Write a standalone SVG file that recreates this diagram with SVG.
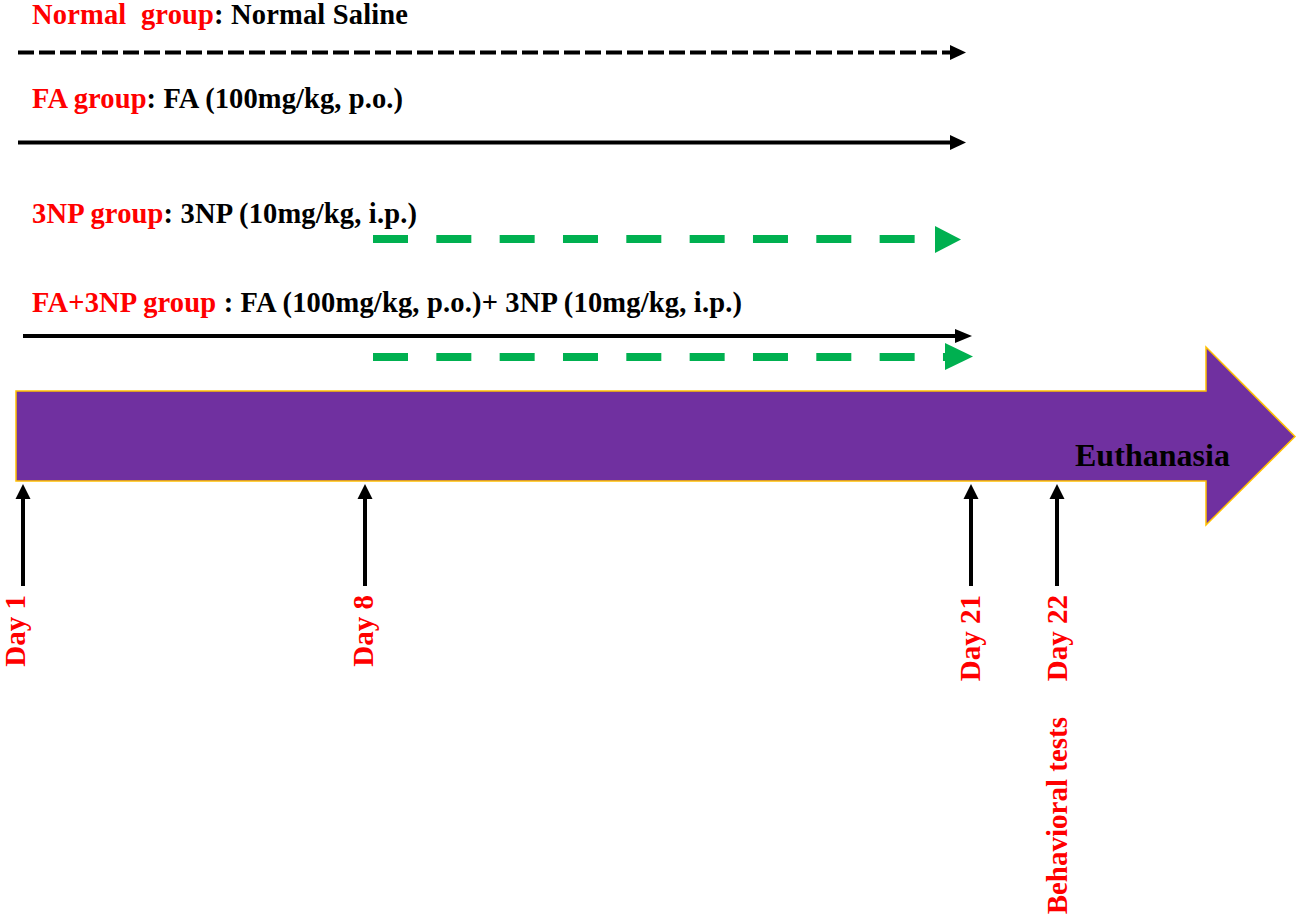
<svg xmlns="http://www.w3.org/2000/svg" width="1300" height="917" viewBox="0 0 1300 917">
<style>
text{font-family:"Liberation Serif","Times New Roman",serif;font-weight:bold}
.lbl{font-size:28.5px;fill:#000}
.red{fill:#FF0000}
.day{font-size:29px;fill:#FF0000;text-anchor:end}
.blk{stroke:#000;stroke-width:4;fill:none}
.dsh{stroke-dasharray:16 5}
.grn{stroke:#00B050;stroke-width:8;fill:none;stroke-dasharray:35 28.33}
.hb{fill:#000}
.hg{fill:#00B050}
</style>
<g id="timeline">
<polygon points="16,391 1206,391 1206,347 1295,436.5 1206,525 1206,481 16,481" fill="#7030A0" stroke="#FFC000" stroke-width="1.5"/>
<text x="1075" y="466" font-size="32" fill="#000" textLength="155">Euthanasia</text>
</g>
<g id="normal-group">
<text class="lbl" x="32" y="24" textLength="376"><tspan class="red">Normal&#160; group</tspan>: Normal Saline</text>
</g>
<g id="fa-group">
<text class="lbl" x="32" y="108" textLength="371"><tspan class="red">FA group</tspan>: FA (100mg/kg, p.o.)</text>
</g>
<g id="np-group">
<text class="lbl" x="32" y="223" textLength="385"><tspan class="red">3NP group</tspan>: 3NP (10mg/kg, i.p.)</text>
</g>
<g id="fanp-group">
<text class="lbl" x="32" y="312" textLength="710"><tspan class="red">FA+3NP group </tspan>: FA (100mg/kg, p.o.)+ 3NP (10mg/kg, i.p.)</text>
</g>
<g id="day1"><text class="day" transform="translate(25,595) rotate(-90)">Day 1</text></g>
<g id="day8"><text class="day" transform="translate(373,595) rotate(-90)">Day 8</text></g>
<g id="day21"><text class="day" transform="translate(980,595) rotate(-90)">Day 21</text></g>
<g id="day22"><text class="day" transform="translate(1067,595) rotate(-90)">Day 22</text></g>
<g id="behavioral"><text class="day" transform="translate(1067,717) rotate(-90)">Behavioral tests</text></g>
<g id="connectors">
<line class="blk dsh" x1="18" y1="52.5" x2="951" y2="52.5"/>
<polygon class="hb" points="950,45 966,52.5 950,60"/>
<line class="blk" x1="18" y1="142.5" x2="952" y2="142.5"/>
<polygon class="hb" points="950,135 966,142.5 950,150"/>
<line class="grn" x1="373" y1="239" x2="935" y2="239"/>
<polygon class="hg" points="935,226 961,239.5 935,253"/>
<line class="blk" x1="23" y1="336" x2="957" y2="336"/>
<polygon class="hb" points="955,329 972,336 955,343"/>
<line class="grn" x1="373" y1="357" x2="947" y2="357"/>
<polygon class="hg" points="945,343 973,356.5 945,370"/>
<line class="blk" x1="23" y1="586" x2="23" y2="497"/>
<polygon class="hb" points="15.5,499 23,484 30.5,499"/>
<line class="blk" x1="365" y1="586" x2="365" y2="497"/>
<polygon class="hb" points="357.5,499 365,484 372.5,499"/>
<line class="blk" x1="971" y1="586" x2="971" y2="497"/>
<polygon class="hb" points="963.5,499 971,484 978.5,499"/>
<line class="blk" x1="1057" y1="586" x2="1057" y2="497"/>
<polygon class="hb" points="1049.5,499 1057,484 1064.5,499"/>
</g>
</svg>
